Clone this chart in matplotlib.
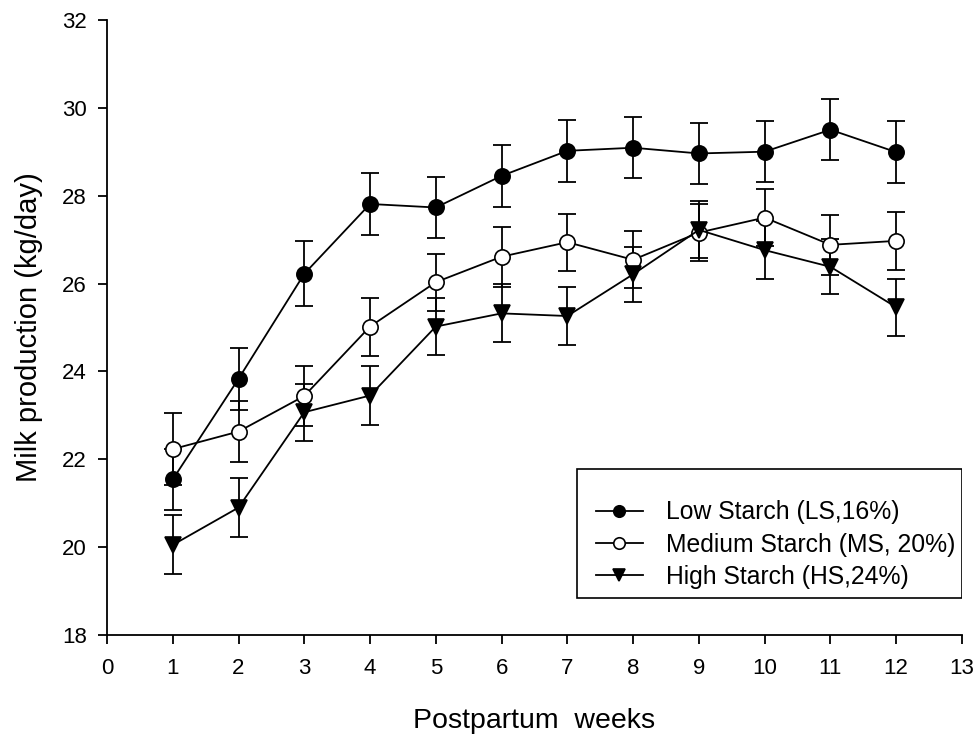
import matplotlib.pyplot as plt
from matplotlib.patches import Rectangle

plt.rcParams['font.family'] = ['Liberation Sans', 'DejaVu Sans']

weeks = [1, 2, 3, 4, 5, 6, 7, 8, 9, 10, 11, 12]

low_starch = [21.54, 23.83, 26.22, 27.81, 27.73, 28.45, 29.02, 29.09, 28.96, 29.00, 29.50, 28.99]
low_se = [0.70, 0.70, 0.74, 0.70, 0.70, 0.70, 0.70, 0.70, 0.70, 0.70, 0.70, 0.70]

medium_starch = [22.23, 22.63, 23.44, 25.02, 26.03, 26.61, 26.94, 26.54, 27.16, 27.50, 26.88, 26.97]
medium_se = [0.82, 0.70, 0.68, 0.66, 0.65, 0.68, 0.65, 0.65, 0.65, 0.65, 0.68, 0.66]

high_starch = [20.05, 20.90, 23.07, 23.45, 25.02, 25.32, 25.26, 26.21, 27.22, 26.76, 26.38, 25.46]
high_se = [0.67, 0.67, 0.65, 0.68, 0.65, 0.66, 0.67, 0.62, 0.65, 0.66, 0.63, 0.65]

fig = plt.figure(figsize=(9.76, 7.34), dpi=100)
ax = fig.add_axes([0.1096, 0.1349, 0.876, 0.838])

err_kw = dict(fmt='none', ecolor='black', elinewidth=1.3, capsize=6.5, capthick=1.3)
ax.errorbar(weeks, low_starch, yerr=low_se, **err_kw)
ax.errorbar(weeks, medium_starch, yerr=medium_se, **err_kw)
ax.errorbar(weeks, high_starch, yerr=high_se, **err_kw)

line_kw = dict(color='black', linewidth=1.3, markersize=11, markeredgecolor='black', markeredgewidth=1.2)
ax.plot(weeks, low_starch, marker='o', markerfacecolor='black', label='Low Starch (LS,16%)', **line_kw)
ax.plot(weeks, medium_starch, marker='o', markerfacecolor='white', label='Medium Starch (MS, 20%)', **line_kw)
ax.plot(weeks, high_starch, marker='v', markerfacecolor='black', label='High Starch (HS,24%)', **line_kw)

ax.set_xlim(0, 13)
ax.set_ylim(18, 32)
ax.set_xticks(range(0, 14))
ax.set_yticks(range(18, 33, 2))
ax.spines['top'].set_visible(False)
ax.spines['right'].set_visible(False)
ax.spines['left'].set_linewidth(1.3)
ax.spines['bottom'].set_linewidth(1.3)
ax.tick_params(direction='out', length=6.5, width=1.3, labelsize=16)
ax.tick_params(axis='x', pad=10)
ax.tick_params(axis='y', pad=8)

ax.set_xlabel('Postpartum  weeks', fontsize=20.5, labelpad=21)
ax.set_ylabel('Milk production (kg/day)', fontsize=21, labelpad=14)

# legend box drawn separately so the padding matches the original
ax.add_patch(Rectangle((0.5497, 0.0602), 0.4503, 0.2097, transform=ax.transAxes,
                       facecolor='white', edgecolor='black', linewidth=1.2, zorder=4))
leg = ax.legend(loc='center right', bbox_to_anchor=(0.9918, 0.147), borderaxespad=0,
                borderpad=0, fontsize=17.8, frameon=False, handlelength=1.9,
                labelspacing=0.33, handletextpad=0.93, markerscale=0.75)
leg.set_zorder(5)

fig.savefig('out.png', dpi=100)
